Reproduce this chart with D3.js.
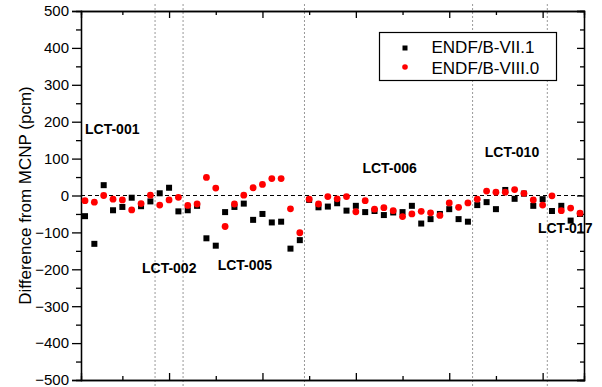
<!DOCTYPE html>
<html>
<head>
<meta charset="utf-8">
<script src="https://cdn.jsdelivr.net/npm/d3@7"></script>
<style>
	body { margin: 0; background: #fff; }
	svg { display: block; font-family: 'Liberation Sans', Arial, sans-serif; }
</style>
</head>
<body>
<div id="chart"></div>
<script>
// difference from MCNP (pcm), one value per benchmark case
var endf71 = [-56, -131, 28, -40, -31, -6, -29, -16, 6, 21, -43, -40, -28, -116, -136, -45, -31, -22, -66, -50,
	-73, -71, -144, -121, -12, -32, -30, -21, -41, -28, -45, -42, -53, -46, -45, -28, -76, -64, -50, -37,
	-64, -71, -26, -18, -37, 15, -9, 5, -28, -10, -42, -28, -68, -50]
var endf80 = [-14, -18, 0, -10, -12, -39, -22, 1, -26, -12, -5, -27, -23, 49, 20, -84, -23, 1, 21, 30,
	46, 46, -36, -101, -10, -23, -3, -9, -3, -44, -14, -37, -33, -41, -57, -50, -43, -47, -54, -20,
	-32, -20, -10, 12, 9, 9, 16, 6, -12, -26, -1, -41, -34, -48]
var seriesNames = ['ENDF/B-VII.1', 'ENDF/B-VIII.0']
var groupNames = ['LCT-001', 'LCT-002', 'LCT-005', 'LCT-006', 'LCT-010', 'LCT-017']
var groupEdges = [8.5, 11.5, 24.5, 42.5, 50.5]
var yTicks = [-500, -400, -300, -200, -100, 0, 100, 200, 300, 400, 500]

function createChart() {
	let width = 602
	let height = 387
	var margin = { left: 81, right: 18, top: 11, bottom: 7 }

	const svg = d3.select('#chart').append('svg')
		.attr('width', width)
		.attr('height', height)

	var x = d3.scaleLinear()
		.domain([0.57, 54.43])
		.range([margin.left, width - margin.right])

	var y = d3.scaleLinear()
		.domain([-500, 500])
		.range([height - margin.bottom, margin.top])

	var x0 = x.range()[0], x1 = x.range()[1]
	var y0 = y.range()[1], y1 = y.range()[0]

	// group separators
	svg.append('g').selectAll('line')
		.data(groupEdges)
		.enter()
		.append('line')
		.attr('x1', d => x(d))
		.attr('x2', d => x(d))
		.attr('y1', y0 - 7)
		.attr('y2', y1 + 7)
		.attr('stroke', '#999')
		.attr('stroke-width', 1)
		.attr('stroke-dasharray', '2,2')

	// zero line
	svg.append('line')
		.attr('x1', x0)
		.attr('x2', x1)
		.attr('y1', y(0))
		.attr('y2', y(0))
		.attr('stroke', '#000')
		.attr('stroke-width', 1.2)
		.attr('stroke-dasharray', '4,3')

	// axes: x ticks inside, left y ticks outside, right y ticks inside
	var xMajor = [10, 20, 30, 40, 50]
	var xMinor = [5, 15, 25, 35, 45]
	var yMinor = d3.range(-450, 500, 100)

	svg.append('g')
		.attr('transform', `translate(0,${y1})`)
		.call(d3.axisBottom(x).tickValues(xMajor).tickSize(-7).tickFormat(''))
	svg.append('g')
		.attr('transform', `translate(0,${y1})`)
		.call(d3.axisBottom(x).tickValues(xMinor).tickSize(-4).tickFormat(''))
	svg.append('g')
		.attr('transform', `translate(0,${y0})`)
		.call(d3.axisTop(x).tickValues(xMajor).tickSize(-7).tickFormat(''))
	svg.append('g')
		.attr('transform', `translate(0,${y0})`)
		.call(d3.axisTop(x).tickValues(xMinor).tickSize(-4).tickFormat(''))

	svg.append('g')
		.attr('class', 'yaxis')
		.attr('transform', `translate(${x0},0)`)
		.call(d3.axisLeft(y).tickValues(yTicks).tickSize(9).tickPadding(3))
	svg.append('g')
		.attr('transform', `translate(${x0},0)`)
		.call(d3.axisLeft(y).tickValues(yMinor).tickSize(5).tickFormat(''))
	svg.append('g')
		.attr('transform', `translate(${x1},0)`)
		.call(d3.axisRight(y).tickValues(yTicks).tickSize(-7).tickFormat(''))
	svg.append('g')
		.attr('transform', `translate(${x1},0)`)
		.call(d3.axisRight(y).tickValues(yMinor).tickSize(-4).tickFormat(''))

	svg.selectAll('.domain')
		.attr('stroke', '#000')
		.attr('stroke-width', 1.3)
	svg.selectAll('.tick line')
		.attr('stroke', '#000')
		.attr('stroke-width', 1.3)
	svg.selectAll('.yaxis text')
		.attr('font-size', '15px')
		.attr('fill', '#000')
		.attr('font-family', "'Liberation Sans', Arial, sans-serif")

	// axis title
	svg.append('text')
		.attr('transform', `translate(31,${(y0 + y1) / 2}) rotate(-90)`)
		.attr('text-anchor', 'middle')
		.attr('font-size', '17px')
		.attr('fill', '#000')
		.text('Difference from MCNP (pcm)')

	// points
	svg.append('g').selectAll('rect')
		.data(endf71)
		.enter()
		.append('rect')
		.attr('x', (d, i) => x(i + 1) - 3)
		.attr('y', d => y(d) - 3)
		.attr('width', 6)
		.attr('height', 6)
		.attr('fill', '#000')

	svg.append('g').selectAll('circle')
		.data(endf80)
		.enter()
		.append('circle')
		.attr('cx', (d, i) => x(i + 1))
		.attr('cy', d => y(d))
		.attr('r', 3.4)
		.attr('fill', '#f00')

	// group labels, placed in data units
	var labelPos = [[1.0, 167], [7.1, -210], [15.2, -202], [30.7, 61], [43.8, 104], [49.5, -102]]
	svg.append('g').selectAll('text')
		.data(groupNames)
		.enter()
		.append('text')
		.attr('x', (d, i) => x(labelPos[i][0]))
		.attr('y', (d, i) => y(labelPos[i][1]))
		.attr('font-size', '14px')
		.attr('font-weight', 'bold')
		.attr('fill', '#000')
		.text(d => d)

	// legend
	var legend = svg.append('g')
		.attr('transform', 'translate(379.5,32.5)')

	legend.append('rect')
		.attr('width', 177)
		.attr('height', 48)
		.attr('fill', '#fff')
		.attr('stroke', '#000')
		.attr('stroke-width', 1.2)

	legend.append('rect')
		.attr('x', 23)
		.attr('y', 13)
		.attr('width', 5)
		.attr('height', 5)
		.attr('fill', '#000')
	legend.append('circle')
		.attr('cx', 25.5)
		.attr('cy', 34.5)
		.attr('r', 2.8)
		.attr('fill', '#f00')

	legend.selectAll('text')
		.data(seriesNames)
		.enter()
		.append('text')
		.attr('x', 52)
		.attr('y', (d, i) => 20.5 + i * 20.5)
		.attr('font-size', '17px')
		.attr('fill', '#000')
		.text(d => d)
}

createChart()
</script>
</body>
</html>
